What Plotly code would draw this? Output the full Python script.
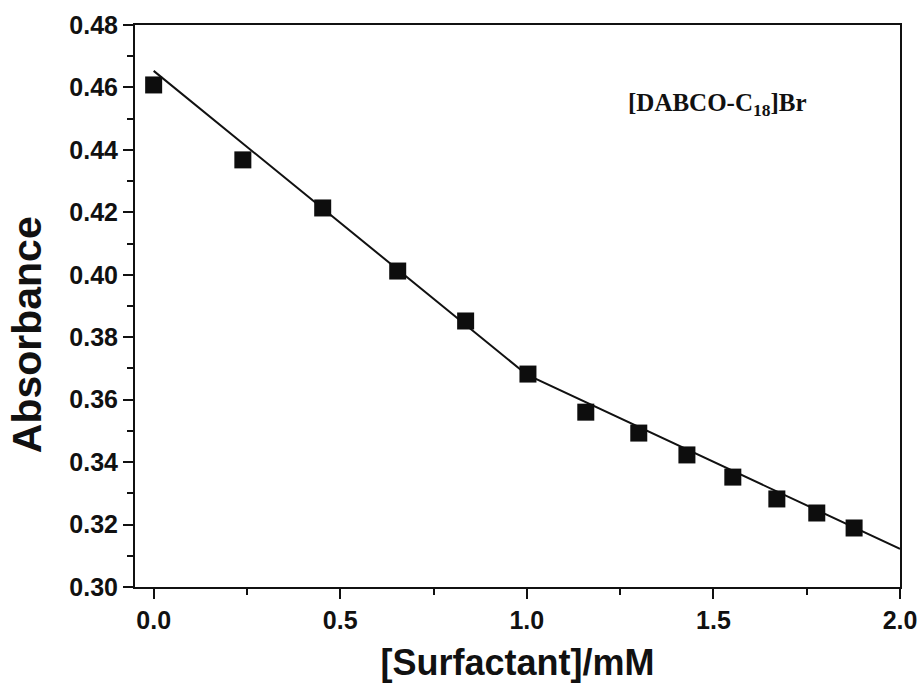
import plotly.graph_objects as go

# Data
conc = [0.0, 0.239, 0.453, 0.654, 0.836, 1.003, 1.158, 1.300, 1.429, 1.552, 1.670, 1.777, 1.877]
absorb = [0.4608, 0.4368, 0.4214, 0.4012, 0.3852, 0.3682, 0.3560, 0.3493, 0.3423, 0.3352, 0.3282, 0.3237, 0.3189]

fit_x = [0.0, 1.0, 2.0]
fit_y = [0.4653, 0.3680, 0.3122]

y_ticks = [0.30, 0.32, 0.34, 0.36, 0.38, 0.40, 0.42, 0.44, 0.46, 0.48]
x_ticks = [0.0, 0.5, 1.0, 1.5, 2.0]

fig = go.Figure()
fig.add_trace(go.Scatter(x=fit_x, y=fit_y, mode="lines",
                         line=dict(color="#111111", width=2), showlegend=False))
fig.add_trace(go.Scatter(x=conc, y=absorb, mode="markers",
                         marker=dict(symbol="square", size=17, color="#0d0d0d"),
                         showlegend=False))

tickfont = dict(family="Liberation Sans", size=25, color="#111111", weight="bold")

fig.update_layout(
    width=921, height=690,
    margin=dict(l=135, r=21, t=25, b=103),
    plot_bgcolor="white", paper_bgcolor="white",
    xaxis=dict(range=[-0.05, 2.0], tickvals=x_ticks, ticktext=[f"{v:.1f}" for v in x_ticks],
               showgrid=False, zeroline=False, automargin=False,
               showline=True, linecolor="#111111", linewidth=2, mirror=True,
               ticks="outside", ticklen=10, tickwidth=2, tickcolor="#111111",
               minor=dict(ticks="outside", ticklen=6, tickwidth=2, tickcolor="#111111", dtick=0.25, tick0=0),
               tickfont=tickfont,
               title=dict(text="[Surfactant]/mM", standoff=17,
                          font=dict(family="Liberation Sans", size=36, color="#111111", weight="bold"))),
    yaxis=dict(range=[0.30, 0.48], tickvals=y_ticks, ticktext=[f"{v:.2f}" for v in y_ticks],
               showgrid=False, zeroline=False, automargin=False,
               showline=True, linecolor="#111111", linewidth=2, mirror=True,
               ticks="outside", ticklen=10, tickwidth=2, tickcolor="#111111",
               minor=dict(ticks="outside", ticklen=6, tickwidth=2, tickcolor="#111111", dtick=0.01, tick0=0.30),
               tickfont=tickfont),
    annotations=[
        dict(x=0.642, y=0.858, xref="x domain", yref="y domain",
             text="[DABCO-C<sub>18</sub>]Br", showarrow=False,
             xanchor="left", yanchor="middle",
             font=dict(family="Liberation Serif", size=25, color="#111111", weight="bold")),
        dict(x=0, y=0.448, xref="paper", yref="paper", xshift=-108,
             text="Absorbance", showarrow=False, textangle=-90,
             xanchor="center", yanchor="middle",
             font=dict(family="Liberation Sans", size=41, color="#111111", weight="bold")),
    ],
)

fig.write_html("out.html", config={"displayModeBar": False},
               post_script="document.body.style.margin='0';document.body.style.overflow='hidden';")
